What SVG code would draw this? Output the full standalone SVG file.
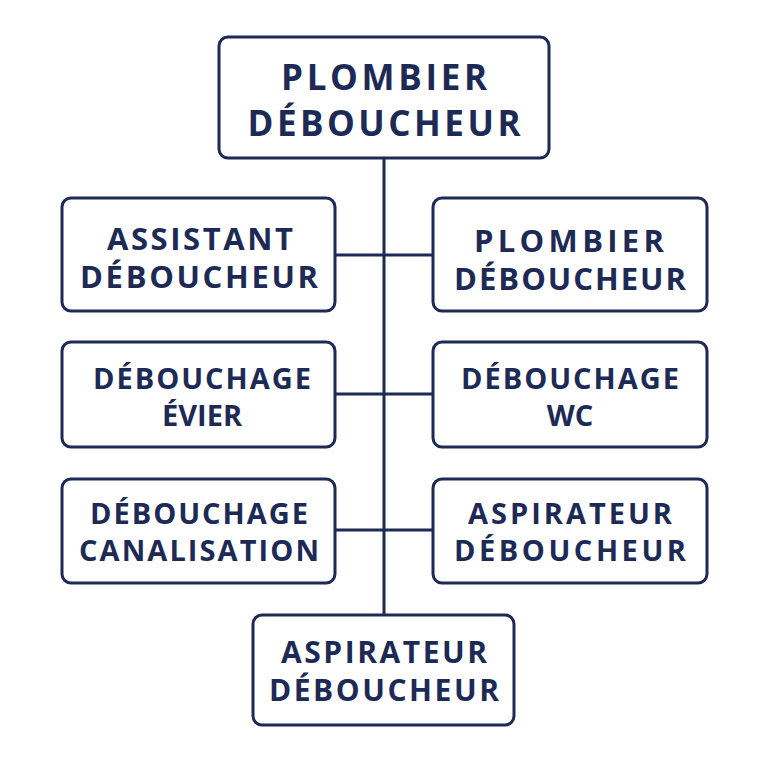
<svg xmlns="http://www.w3.org/2000/svg" width="768" height="768" viewBox="0 0 768 768">
<style>
.b{fill:#fff;stroke:#1d2a55;stroke-width:3}
.t{fill:#1d2a55;font-family:"Open Sans","Liberation Sans",sans-serif;font-weight:bold;text-anchor:middle}
.c{stroke:#1d2a55;stroke-width:3;fill:none}
</style>
<rect width="768" height="768" fill="#fff"/>
<g id="connectors">
<line class="c" x1="384" y1="158" x2="384" y2="615"/>
<line class="c" x1="335" y1="255" x2="433" y2="255"/>
<line class="c" x1="335" y1="394" x2="433" y2="394"/>
<line class="c" x1="335" y1="530" x2="433" y2="530"/>
</g>
<g id="top"><rect class="b" x="219" y="37" width="330" height="121" rx="9"/>
<text class="t" font-size="35" x="384" y="90" textLength="206">PLOMBIER</text><text class="t" font-size="35" x="384" y="136" textLength="273">DÉBOUCHEUR</text></g>
<g id="l1"><rect class="b" x="62" y="198" width="273" height="113" rx="9"/>
<text class="t" font-size="31" x="200" y="250" textLength="186">ASSISTANT</text><text class="t" font-size="31" x="199" y="288" textLength="238">DÉBOUCHEUR</text></g>
<g id="r1"><rect class="b" x="433" y="198" width="274" height="113" rx="9"/>
<text class="t" font-size="31" x="569" y="252" textLength="190">PLOMBIER</text><text class="t" font-size="31" x="570" y="290" textLength="232">DÉBOUCHEUR</text></g>
<g id="l2"><rect class="b" x="62" y="342" width="273" height="105" rx="9"/>
<text class="t" font-size="29" x="202" y="389" textLength="218">DÉBOUCHAGE</text><text class="t" font-size="29" x="202" y="426">ÉVIER</text></g>
<g id="r2"><rect class="b" x="433" y="342" width="274" height="105" rx="9"/>
<text class="t" font-size="29" x="570" y="389" textLength="218">DÉBOUCHAGE</text><text class="t" font-size="29" x="570" y="426">WC</text></g>
<g id="l3"><rect class="b" x="62" y="479" width="273" height="104" rx="9"/>
<text class="t" font-size="29" x="199" y="524" textLength="218">DÉBOUCHAGE</text><text class="t" font-size="29" x="199" y="561" textLength="240">CANALISATION</text></g>
<g id="r3"><rect class="b" x="433" y="479" width="274" height="104" rx="9"/>
<text class="t" font-size="29" x="570" y="524" textLength="204">ASPIRATEUR</text><text class="t" font-size="29" x="570" y="561" textLength="232">DÉBOUCHEUR</text></g>
<g id="bottom"><rect class="b" x="253" y="615" width="261" height="110" rx="9"/>
<text class="t" font-size="30" x="384" y="663" textLength="206">ASPIRATEUR</text><text class="t" font-size="30" x="384" y="701" textLength="230">DÉBOUCHEUR</text></g>
</svg>
